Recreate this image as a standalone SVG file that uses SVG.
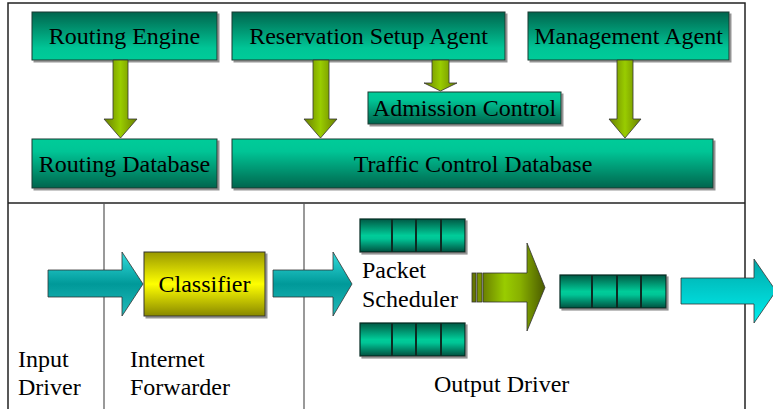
<svg xmlns="http://www.w3.org/2000/svg" width="773" height="409" viewBox="0 0 773 409">
<defs>
<linearGradient id="gTop" x1="0" y1="0" x2="0" y2="1"><stop offset="0" stop-color="#00654d"/><stop offset="0.75" stop-color="#00c596"/><stop offset="1" stop-color="#00cc99"/></linearGradient>
<linearGradient id="gBot" x1="0" y1="0" x2="0" y2="1"><stop offset="0" stop-color="#00cc99"/><stop offset="0.25" stop-color="#00c596"/><stop offset="1" stop-color="#00654d"/></linearGradient>
<linearGradient id="gQueue" x1="0" y1="0" x2="0" y2="1"><stop offset="0" stop-color="#005a45"/><stop offset="0.5" stop-color="#00cc99"/><stop offset="0.6" stop-color="#00c596"/><stop offset="1" stop-color="#005040"/></linearGradient>
<linearGradient id="gGreenV" x1="0" y1="0" x2="1" y2="0"><stop offset="0" stop-color="#6a8000"/><stop offset="0.5" stop-color="#99cc00"/><stop offset="1" stop-color="#6a8000"/></linearGradient>
<linearGradient id="gGreenH" x1="0" y1="0" x2="1" y2="0"><stop offset="0" stop-color="#6a8000"/><stop offset="0.35" stop-color="#99cc00"/><stop offset="0.6" stop-color="#88b000"/><stop offset="1" stop-color="#4a5a00"/></linearGradient>
<linearGradient id="gCyan" x1="0" y1="0" x2="0" y2="1"><stop offset="0" stop-color="#33dddd"/><stop offset="0.5" stop-color="#009999"/><stop offset="1" stop-color="#22bbbb"/></linearGradient>
<linearGradient id="gCyan2" x1="0" y1="0" x2="0" y2="1"><stop offset="0" stop-color="#00a8a8"/><stop offset="1" stop-color="#00eeee"/></linearGradient>
<linearGradient id="gYellow" x1="0" y1="0" x2="0" y2="1"><stop offset="0" stop-color="#999900"/><stop offset="0.5" stop-color="#ffff00"/><stop offset="1" stop-color="#888800"/></linearGradient>
<filter id="sh" x="-5%" y="-5%" width="115%" height="130%"><feDropShadow dx="2" dy="2" stdDeviation="0.5" flood-color="#888888" flood-opacity="0.9"/></filter>
</defs>
<style>
.t{font-family:'Liberation Serif',serif;font-size:24px;fill:#000}
.c{text-anchor:middle}
.box{stroke:#1a3a30;stroke-width:1}
.frame{fill:none;stroke:#222;stroke-width:1.5}
.div{stroke:#555;stroke-width:1.2}
.arr{stroke:#333;stroke-width:0.8}
.q{fill:url(#gQueue);stroke:#0a2a20;stroke-width:1.2}
.qd{stroke:#0a2a20;stroke-width:2}
</style>
<rect width="773" height="409" fill="#fff"/>
<g id="frame">
<rect class="frame" x="8" y="3" width="737" height="420"/>
<line class="frame" x1="8" y1="203" x2="745" y2="203"/>
<line class="div" x1="104" y1="203" x2="104" y2="409"/>
<line class="div" x1="304" y1="203" x2="304" y2="409"/>
</g>
<g id="routing-engine"><rect class="box" x="32" y="12" width="185" height="48" fill="url(#gTop)" filter="url(#sh)"/><text class="t c" font-family="Liberation Serif" x="124.5" y="44">Routing Engine</text></g>
<g id="reservation-setup-agent"><rect class="box" x="232" y="12" width="273" height="48" fill="url(#gTop)" filter="url(#sh)"/><text class="t c" font-family="Liberation Serif" x="368.5" y="44">Reservation Setup Agent</text></g>
<g id="management-agent"><rect class="box" x="528" y="12" width="201" height="48" fill="url(#gTop)" filter="url(#sh)"/><text class="t c" font-family="Liberation Serif" x="628.5" y="44">Management Agent</text></g>
<g id="admission-control"><rect class="box" x="368" y="92" width="193" height="32" fill="url(#gBot)" filter="url(#sh)"/><text class="t c" font-family="Liberation Serif" x="464.5" y="116">Admission Control</text></g>
<g id="routing-database"><rect class="box" x="32" y="139" width="185" height="49" fill="url(#gBot)" filter="url(#sh)"/><text class="t c" font-family="Liberation Serif" x="124.5" y="172">Routing Database</text></g>
<g id="traffic-control-database"><rect class="box" x="232" y="139" width="481" height="49" fill="url(#gBot)" filter="url(#sh)"/><text class="t c" font-family="Liberation Serif" x="473" y="172">Traffic Control Database</text></g>
<g id="classifier"><rect x="144" y="252" width="121" height="64" fill="url(#gYellow)" stroke="#333" stroke-width="1" filter="url(#sh)"/><text class="t c" font-family="Liberation Serif" x="204.5" y="292">Classifier</text></g>
<g id="queue-top" filter="url(#sh)"><rect class="q" x="360" y="219" width="105" height="33"/><line class="qd" x1="392" y1="219" x2="392" y2="252"/><line class="qd" x1="416" y1="219" x2="416" y2="252"/><line class="qd" x1="441" y1="219" x2="441" y2="252"/></g>
<g id="queue-bottom" filter="url(#sh)"><rect class="q" x="360" y="323" width="105" height="33"/><line class="qd" x1="392" y1="323" x2="392" y2="356"/><line class="qd" x1="416" y1="323" x2="416" y2="356"/><line class="qd" x1="441" y1="323" x2="441" y2="356"/></g>
<g id="queue-output" filter="url(#sh)"><rect class="q" x="560" y="275" width="106" height="33"/><line class="qd" x1="592" y1="275" x2="592" y2="308"/><line class="qd" x1="617" y1="275" x2="617" y2="308"/><line class="qd" x1="641" y1="275" x2="641" y2="308"/></g>
<g id="packet-scheduler"><text class="t" font-family="Liberation Serif" x="362" y="278">Packet</text><text class="t" font-family="Liberation Serif" x="362" y="307">Scheduler</text></g>
<g id="labels">
<text class="t" font-family="Liberation Serif" x="18" y="367">Input</text><text class="t" font-family="Liberation Serif" x="18" y="395">Driver</text>
<text class="t" font-family="Liberation Serif" x="130" y="367">Internet</text><text class="t" font-family="Liberation Serif" x="130" y="395">Forwarder</text>
<text class="t" font-family="Liberation Serif" x="434" y="392">Output Driver</text>
</g>
<g id="connectors">
<polygon class="arr" fill="url(#gGreenV)" points="113,60 128,60 128,119 137,119 120.5,138 104,119 113,119"/>
<polygon class="arr" fill="url(#gGreenV)" points="313,60 329,60 329,119 337,119 320.5,138 304,119 313,119"/>
<polygon class="arr" fill="url(#gGreenV)" points="432,60 449,60 449,83 457,83 440.5,91 424,83 432,83"/>
<polygon class="arr" fill="url(#gGreenV)" points="617,60 633,60 633,119 641,119 625,138 609,119 617,119"/>
<polygon class="arr" fill="url(#gCyan)" points="48,270 122,270 122,252 143,284 122,316 122,297 48,297"/>
<polygon class="arr" fill="url(#gCyan)" points="273,270 333,270 333,252 352,284 333,316 333,297 273,297"/>
<rect class="arr" x="472" y="273" width="4" height="29" fill="#667700"/>
<rect class="arr" x="477" y="273" width="5" height="29" fill="#7a9200"/>
<polygon class="arr" fill="url(#gGreenH)" points="483,273 527,273 527,243 545,287.5 527,331 527,302 483,302"/>
<polygon class="arr" fill="url(#gCyan2)" points="681,278 754,278 754,259 776,291 754,323 754,304 681,304"/>
</g>
</svg>
